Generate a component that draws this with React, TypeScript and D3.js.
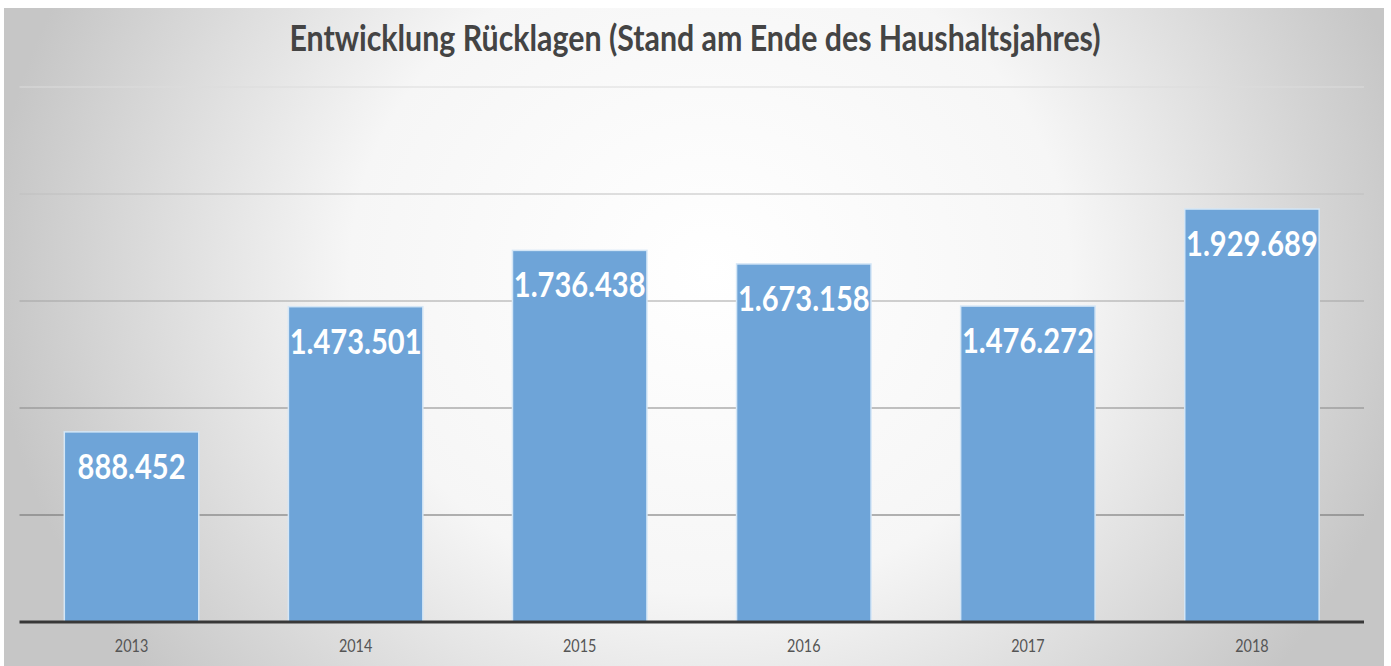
import React, { useRef, useEffect } from 'react';
import * as d3 from 'd3';

const years = ['2013', '2014', '2015', '2016', '2017', '2018'];
const reserves = [888452, 1473501, 1736438, 1673158, 1476272, 1929689];
const gridValues = [500000, 1000000, 1500000, 2000000, 2500000];
const title = 'Entwicklung Rücklagen (Stand am Ende des Haushaltsjahres)';

const W = 1391;
const H = 666;

// deutsches Zahlenformat: 1.473.501
const fmt = (v: number) => d3.format(',')(v).replace(/,/g, '.');

function drawChart(svgEle: SVGSVGElement) {
  const svg = d3.select(svgEle);
  svg.selectAll('*').remove();

  const margin = { top: 87, right: 27, bottom: 44, left: 19.5 };
  const plotBottom = H - margin.bottom; // Grundlinie ~622

  const defs = svg.append('defs');
  const bg = defs
    .append('radialGradient')
    .attr('id', 'bg')
    .attr('gradientUnits', 'userSpaceOnUse')
    .attr('cx', 710)
    .attr('cy', 270)
    .attr('r', 720)
    .attr('gradientTransform', 'translate(710,270) scale(1,0.9) translate(-710,-270)');
  bg.append('stop').attr('offset', '0').attr('stop-color', '#ffffff');
  bg.append('stop').attr('offset', '0.5').attr('stop-color', '#f6f6f6');
  bg.append('stop').attr('offset', '1').attr('stop-color', '#c6c6c6');

  const gridGrad = defs
    .append('linearGradient')
    .attr('id', 'gridGrad')
    .attr('gradientUnits', 'userSpaceOnUse')
    .attr('x1', 0)
    .attr('y1', 87)
    .attr('x2', 0)
    .attr('y2', 514);
  gridGrad.append('stop').attr('offset', '0').attr('stop-color', '#dcdcdc');
  gridGrad.append('stop').attr('offset', '1').attr('stop-color', '#6a6a6a');

  // Hintergrund
  svg
    .append('rect')
    .attr('x', 4)
    .attr('y', 8)
    .attr('width', 1380)
    .attr('height', H - 8)
    .attr('fill', 'url(#bg)');

  const x = d3
    .scaleBand()
    .domain(years)
    .range([margin.left, W - margin.right])
    .paddingInner(0.4)
    .paddingOuter(0.2);

  const y = d3
    .scaleLinear()
    .domain([0, 2500000])
    .range([plotBottom, margin.top]);

  // Gitterlinien
  svg
    .append('g')
    .selectAll('line')
    .data(gridValues)
    .enter()
    .append('line')
    .attr('x1', margin.left)
    .attr('x2', W - margin.right)
    .attr('y1', (d) => y(d))
    .attr('y2', (d) => y(d))
    .attr('stroke', 'url(#gridGrad)')
    .attr('stroke-width', 1.2);

  // Balken
  svg
    .append('g')
    .selectAll('rect')
    .data(reserves)
    .enter()
    .append('rect')
    .attr('x', (_, i) => x(years[i]) as number)
    .attr('y', (d) => y(d))
    .attr('width', x.bandwidth())
    .attr('height', (d) => plotBottom - y(d))
    .attr('fill', '#6ea4d8')
    .attr('stroke', '#d4e6f6')
    .attr('stroke-width', 1.5);

  // Grundlinie
  svg
    .append('line')
    .attr('x1', margin.left)
    .attr('x2', W - margin.right)
    .attr('y1', plotBottom)
    .attr('y2', plotBottom)
    .attr('stroke', '#383838')
    .attr('stroke-width', 3);

  // Werte in den Balken
  svg
    .append('g')
    .selectAll('text')
    .data(reserves)
    .enter()
    .append('text')
    .attr(
      'transform',
      (d, i) => `translate(${(x(years[i]) as number) + x.bandwidth() / 2},${y(d) + 47}) scale(0.83,1)`
    )
    .attr('text-anchor', 'middle')
    .attr('font-family', 'Lato, "Open Sans", sans-serif')
    .attr('font-weight', 700)
    .attr('font-size', 35)
    .attr('fill', '#ffffff')
    .text((d) => fmt(d));

  // Jahreszahlen
  svg
    .append('g')
    .selectAll('text')
    .data(years)
    .enter()
    .append('text')
    .attr('transform', (d) => `translate(${(x(d) as number) + x.bandwidth() / 2},${plotBottom + 30}) scale(0.8,1)`)
    .attr('text-anchor', 'middle')
    .attr('font-family', 'Lato, "Open Sans", sans-serif')
    .attr('font-size', 18)
    .attr('fill', '#555555')
    .text((d) => d);

  // Titel
  svg
    .append('text')
    .attr('transform', `translate(695,51) scale(0.82,1)`)
    .attr('text-anchor', 'middle')
    .attr('font-family', 'Lato, "Open Sans", sans-serif')
    .attr('font-weight', 700)
    .attr('font-size', 37)
    .attr('fill', '#444444')
    .text(title);
}

export default function App(): JSX.Element {
  const svgRef = useRef<SVGSVGElement>(null);

  useEffect(() => {
    if (svgRef.current == null) {
      return;
    }
    drawChart(svgRef.current);
  }, []);

  return (
    <svg
      ref={svgRef}
      width={W}
      height={H}
      style={{ position: 'absolute', left: 0, top: 0, background: '#ffffff' }}
    />
  );
}
